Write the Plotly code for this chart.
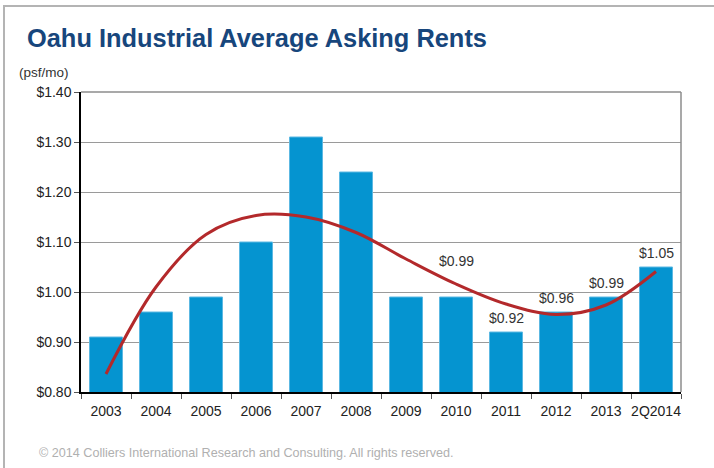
import plotly.graph_objects as go

categories = ["2003", "2004", "2005", "2006", "2007", "2008", "2009", "2010", "2011", "2012", "2013", "2Q2014"]
rents = [0.91, 0.96, 0.99, 1.10, 1.31, 1.24, 0.99, 0.99, 0.92, 0.96, 0.99, 1.05]
trend = [0.836, 1.010, 1.115, 1.153, 1.150, 1.119, 1.066, 1.016, 0.976, 0.955, 0.974, 1.041]
label_cats = ["2010", "2011", "2012", "2013", "2Q2014"]
label_vals = [0.99, 0.92, 0.96, 0.99, 1.05]
label_shift = [36, 14, 14, 14, 14]

L, R, T, B = 81, 33, 92, 76
W, H = 714, 468
pw, ph = W - L - R, H - T - B

def px(x):
    return (x - L) / pw

def py(y):
    return (H - B - y) / ph

fig = go.Figure()
fig.add_trace(go.Bar(
    x=categories, y=rents,
    marker=dict(color="#0594d0", line=dict(color="#5cb8e2", width=1)),
    width=0.66, hoverinfo="skip", showlegend=False,
))
fig.add_trace(go.Scatter(
    x=categories, y=trend, mode="lines",
    line=dict(color="#b3292b", width=3, shape="spline", smoothing=1.0),
    hoverinfo="skip", showlegend=False,
))

for c, v, s in zip(label_cats, label_vals, label_shift):
    fig.add_annotation(x=categories.index(c), y=v, text=f"${v:.2f}", showarrow=False,
                       yshift=s, yanchor="middle",
                       font=dict(family="Liberation Sans, Arial", size=14, color="#333333"))

fig.add_annotation(xref="paper", yref="paper", x=px(17), y=py(72), xanchor="left", yanchor="middle",
                   text="(psf/mo)", showarrow=False,
                   font=dict(family="Liberation Sans, Arial", size=13.5, color="#333333"))
fig.add_annotation(xref="paper", yref="paper", x=px(37), y=py(453), xanchor="left", yanchor="middle",
                   text="© 2014 Colliers International Research and Consulting. All rights reserved.",
                   showarrow=False,
                   font=dict(family="Liberation Sans, Arial", size=12.6, color="#b0b0b0"))

# outer frame
fig.add_shape(type="rect", xref="paper", yref="paper",
              x0=px(4), x1=px(730), y0=py(490), y1=py(6),
              line=dict(color="#b4b4b4", width=2), layer="below")
# plot area border top/right
fig.add_shape(type="line", xref="paper", yref="paper", x0=0, x1=1, y0=1, y1=1,
              line=dict(color="#8c8c8c", width=1.5))
fig.add_shape(type="line", xref="paper", yref="paper", x0=1, x1=1, y0=0, y1=1,
              line=dict(color="#8c8c8c", width=1.5))

fig.update_layout(
    width=W, height=H,
    margin=dict(l=L, r=R, t=T, b=B),
    paper_bgcolor="white", plot_bgcolor="white",
    bargap=0.34,
    title=dict(text="<b>Oahu Industrial Average Asking Rents</b>",
               x=27 / W, xanchor="left", xref="container",
               y=1 - 38 / H, yanchor="middle", yref="container",
               font=dict(family="Liberation Sans, Arial", size=25.4, color="#17467c")),
    xaxis=dict(type="category", range=[-0.5, len(categories) - 0.5], showgrid=False,
               showline=True, linecolor="#000000", linewidth=1.5,
               ticks="outside", tickson="boundaries", ticklen=5, tickcolor="#555555",
               tickangle=0, ticklabelstandoff=5,
               tickfont=dict(family="Liberation Sans, Arial", size=14, color="#222222")),
    yaxis=dict(range=[0.8, 1.4], dtick=0.1, tickformat="$.2f", showgrid=True,
               gridcolor="#9a9a9a", gridwidth=1, showline=True, linecolor="#000000", linewidth=1.5,
               ticks="outside", ticklen=5, tickcolor="#555555", zeroline=False,
               tickfont=dict(family="Liberation Sans, Arial", size=14, color="#222222")),
)

fig.write_html("out.html")
